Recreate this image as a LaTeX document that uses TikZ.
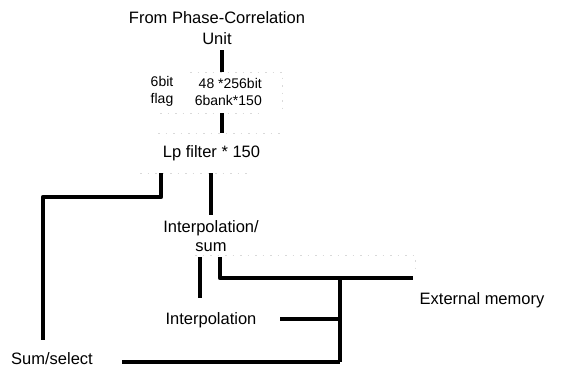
\documentclass[tikz,border=0pt]{standalone}
\usepackage{fontspec}
\setmainfont{Liberation Sans}
\begin{document}
\begin{tikzpicture}[x=1pt,y=-1pt,
  lbl/.style={inner sep=0pt, font=\fontsize{16.5}{21}\selectfont, align=center},
  lblt/.style={inner sep=0pt, font=\fontsize{14}{17}\selectfont},
  wire/.style={line width=4.8pt, line cap=butt, line join=round},
  ghost/.style={black!15, line width=0.6pt, dash pattern=on 1.5pt off 6pt}]
\useasboundingbox[fill=white] (0,0) rectangle (561,367);
% text nodes
\node[lbl] (src) at (217,28) {From Phase-Correlation\\Unit};
\node[lblt, align=center] (flag) at (162,91.5) {6bit\\flag};
\node[lblt, align=right, anchor=east] (data) at (262,91.5) {48 *256bit\\6bank*150};
\node[lbl] (lp) at (211.5,153) {Lp filter * 150};
\node[lbl, font=\fontsize{16.5}{19}\selectfont] (ip) at (211,236.5) {Interpolation/\\sum};
\node[lbl] (ip2) at (211,320) {Interpolation};
\node[lbl] (sel) at (52,359) {Sum/select};
\node[lbl] (ext) at (482,300) {External memory};
% connection points
\coordinate (srcout) at (222,50);
\coordinate (boxin) at (222,72);
\coordinate (boxout) at (222,113);
\coordinate (lpin) at (222,133);
\coordinate (lpoutL) at (161,173);
\coordinate (selin) at (43,340);
\coordinate (lpoutM) at (211,173);
\coordinate (ipin) at (211,215);
\coordinate (ipoutL) at (200,257);
\coordinate (ip2in) at (200,298);
\coordinate (ipoutR) at (220,257);
\coordinate (extin) at (413,278);
\coordinate (bustop) at (340,278);
\coordinate (busbot) at (340,362);
\coordinate (ip2out) at (280,319);
\coordinate (selout) at (122,362);
% faint box edges
\draw[ghost] (190,72) -- (282,72) -- (282,110);
\draw[ghost] (160,113) -- (260,113);
\draw[ghost] (158,133) -- (282,133);
\draw[ghost] (140,173) -- (250,173);
\draw[ghost] (195,255) -- (415,255) -- (415,275);
% connectors
\draw[wire] (srcout) -- (boxin);
\draw[wire] (boxout) -- (lpin);
\draw[wire] (lpoutL) |- (43,197) -- (selin);
\draw[wire] (lpoutM) -- (ipin);
\draw[wire] (ipoutL) -- (ip2in);
\draw[wire] (ipoutR) |- (extin);
\draw[wire] (bustop) -- (busbot);
\draw[wire] (ip2out) -- (ip2out -| bustop);
\draw[wire] (selout) -- (busbot);
\end{tikzpicture}
\end{document}
